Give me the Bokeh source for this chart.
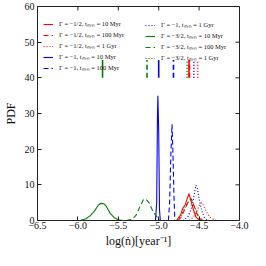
import math
from bokeh.plotting import figure
from bokeh.models import Range1d, FixedTicker, Legend, LegendItem
from bokeh.embed import file_html
from bokeh.resources import INLINE

x_ticks = [-6.5, -6.0, -5.5, -5.0, -4.5, -4.0]
x_tick_labels = ["\u22126.5", "\u22126.0", "\u22125.5", "\u22125.0", "\u22124.5", "\u22124.0"]
y_ticks = [0, 10, 20, 30, 40, 50, 60]
y_tick_labels = ["0", "10", "20", "30", "40", "50", "60"]
x_lo, x_hi = -6.5, -4.0
y_lo, y_hi = 0, 60
x_title = "log(\u1e45)[year\u207b\u00b9]"
y_title = "PDF"

labels = [
    "\u0393 = \u22121/2, t\u2098\u1d62\u2099 = 10 Myr",
    "\u0393 = \u22121/2, t\u2098\u1d62\u2099 = 100 Myr",
    "\u0393 = \u22121/2, t\u2098\u1d62\u2099 = 1 Gyr",
    "\u0393 = \u22121, t\u2098\u1d62\u2099 = 10 Myr",
    "\u0393 = \u22121, t\u2098\u1d62\u2099 = 100 Myr",
    "\u0393 = \u22121, t\u2098\u1d62\u2099 = 1 Gyr",
    "\u0393 = \u22123/2, t\u2098\u1d62\u2099 = 10 Myr",
    "\u0393 = \u22123/2, t\u2098\u1d62\u2099 = 100 Myr",
    "\u0393 = \u22123/2, t\u2098\u1d62\u2099 = 1 Gyr",
]
colors = ["red", "red", "red", "blue", "blue", "blue", "green", "green", "green"]
dashes = ["solid", "5 3", "1 2", "solid", "5 3", "1 2", "solid", "5 3", "1 2"]

# PDF curves: log(ndot) and PDF value
r10_x = [-4.78, -4.73, -4.70, -4.67, -4.65, -4.625, -4.60, -4.57, -4.54, -4.50, -4.47]
r10_y = [0, 1.5, 3.5, 4.5, 6.0, 7.5, 5.5, 3.0, 1.0, 0.2, 0]
r100_x = [-4.76, -4.72, -4.68, -4.64, -4.60, -4.57, -4.53, -4.49, -4.45]
r100_y = [0, 1.0, 3.0, 5.0, 6.2, 4.5, 2.0, 0.5, 0]
r1g_x = [-4.62, -4.57, -4.53, -4.50, -4.47, -4.44, -4.40, -4.35, -4.30, -4.27]
r1g_y = [0, 1.0, 2.5, 4.2, 5.0, 4.0, 2.0, 0.6, 0.1, 0]
b10_x = [-5.04, -5.025, -5.015, -5.01, -5.00, -4.99, -4.98]
b10_y = [0, 5, 30, 35, 25, 3, 0]
b100_x = [-4.88, -4.865, -4.85, -4.835, -4.825, -4.81, -4.80]
b100_y = [0, 5, 18, 27, 20, 6, 0]
b1g_x = [-4.70, -4.64, -4.60, -4.57, -4.54, -4.52, -4.50, -4.47, -4.44, -4.40]
b1g_y = [0, 1.0, 3.0, 6.0, 9.9, 9.0, 6.0, 3.0, 1.0, 0]
g10_x = [-5.97, -5.90, -5.85, -5.80, -5.75, -5.72, -5.68, -5.65, -5.60, -5.55, -5.50, -5.45]
g10_y = [0, 0.5, 1.3, 2.5, 4.2, 4.8, 4.7, 4.0, 2.0, 0.8, 0.2, 0]
g100_x = [-5.40, -5.33, -5.28, -5.23, -5.19, -5.16, -5.12, -5.08, -5.04, -5.00, -4.98]
g100_y = [0, 0.3, 1.5, 4.0, 5.8, 6.0, 5.0, 3.0, 1.5, 0.4, 0]
g1g_x = [-4.77, -4.72, -4.68, -4.64, -4.60, -4.57, -4.54, -4.50, -4.45]
g1g_y = [0, 1.5, 3.5, 5.0, 6.0, 5.0, 3.0, 1.0, 0]

curves_x = [r10_x, r100_x, r1g_x, b10_x, b100_x, b1g_x, g10_x, g100_x, g1g_x]
curves_y = [r10_y, r100_y, r1g_y, b10_y, b100_y, b1g_y, g10_y, g100_y, g1g_y]

# vertical markers (one per series) drawn between marker_lo and marker_hi
marker_x = [-4.625, -4.619, -4.517, -5.00, -4.817, -4.565, -5.695, -5.145, -4.649]
marker_lo = 40
marker_hi = 45

FONT = "Liberation Serif"
FRAME = "#222222"

p = figure(width=250, height=250, output_backend="svg", toolbar_location=None,
           x_range=Range1d(x_lo, x_hi), y_range=Range1d(y_lo, y_hi),
           min_border_left=31, min_border_right=11, min_border_top=6, min_border_bottom=30)
p.grid.visible = False
p.outline_line_color = FRAME
p.outline_line_width = 1
p.background_fill_color = "white"
p.border_fill_color = "white"

renderers = []
for cx, cy, c, d, mx in zip(curves_x, curves_y, colors, dashes, marker_x):
    r = p.line(cx, cy, line_color=c, line_dash=d, line_width=1.1)
    renderers.append(r)
    p.segment(x0=[mx], y0=[marker_lo], x1=[mx], y1=[marker_hi],
              line_color=c, line_dash=d, line_width=1.6)

# inward ticks on the top and right edges of the frame
p.ray(x=x_ticks, y=[y_hi] * len(x_ticks), length=4, length_units="screen",
      angle=-math.pi / 2, line_color=FRAME, line_width=1)
p.ray(x=[x_hi] * len(y_ticks), y=y_ticks, length=4, length_units="screen",
      angle=math.pi, line_color=FRAME, line_width=1)

def style_axis(ax):
    ax.axis_line_color = FRAME
    ax.major_tick_line_color = FRAME
    ax.major_tick_in = 4
    ax.major_tick_out = 0
    ax.minor_tick_line_color = None
    ax.major_label_text_font = FONT
    ax.major_label_text_font_size = "10px"
    ax.major_label_text_color = "#111111"
    ax.major_label_standoff = 1
    ax.axis_label_text_font = FONT
    ax.axis_label_text_font_style = "normal"
    ax.axis_label_text_color = "#111111"

xa = p.xaxis[0]
xa.ticker = FixedTicker(ticks=x_ticks)
xa.major_label_overrides = dict(zip(x_ticks, x_tick_labels))
style_axis(xa)
xa.axis_label = x_title
xa.axis_label_text_font_size = "12px"
xa.axis_label_standoff = 2

ya = p.yaxis[0]
ya.ticker = FixedTicker(ticks=y_ticks)
ya.major_label_overrides = dict(zip(y_ticks, y_tick_labels))
style_axis(ya)
ya.major_label_standoff = 3
ya.axis_label = y_title
ya.axis_label_text_font_size = "12px"
ya.axis_label_standoff = 4

def make_legend(idx, loc):
    lg = Legend(items=[LegendItem(label=labels[i], renderers=[renderers[i]]) for i in idx],
                location=loc, orientation="vertical")
    lg.label_text_font = FONT
    lg.label_text_font_size = "6.5px"
    lg.label_text_color = "#111111"
    lg.label_height = 8
    lg.glyph_height = 8
    lg.glyph_width = 10
    lg.label_standoff = 6
    lg.spacing = 2
    lg.padding = 0
    lg.margin = 0
    lg.border_line_color = None
    lg.background_fill_alpha = 0
    return lg

p.add_layout(make_legend([0, 1, 2, 3, 4], (6, 148)))
p.add_layout(make_legend([5, 6, 7, 8], (108, 158)))

open("out.html", "w").write(file_html(p, INLINE))
